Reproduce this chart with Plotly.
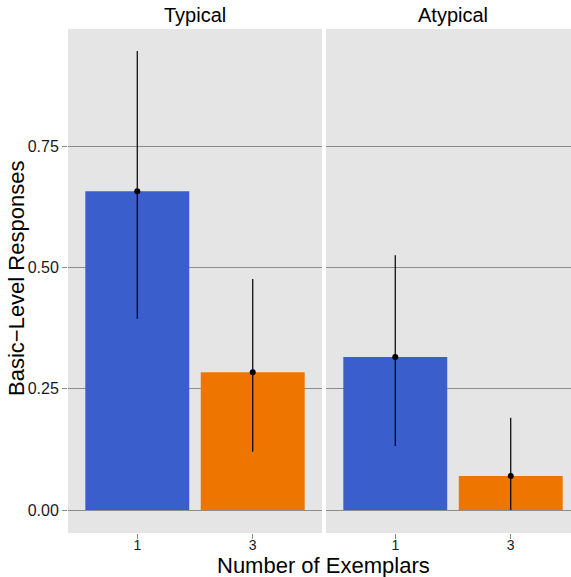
import plotly.graph_objects as go

# ---- data ----
panels = ["Typical", "Atypical"]
exemplars = ["1", "3"]
typical_means = [0.657, 0.284]
typical_lower = [0.394, 0.120]
typical_upper = [0.946, 0.476]
atypical_means = [0.315, 0.070]
atypical_lower = [0.132, 0.000]
atypical_upper = [0.525, 0.190]
bar_colors = ["#3A5FCD", "#EE7600"]
y_tickvals = [0.0, 0.25, 0.5, 0.75]
y_ticktext = ["0.00", "0.25", "0.50", "0.75"]

FONT = "Helvetica, 'Liberation Sans', Arial, sans-serif"
GRID = "#8c8c8c"
BG = "#E5E5E5"

fig = go.Figure()

series = [
    (typical_means, typical_lower, typical_upper, "x", "y"),
    (atypical_means, atypical_lower, atypical_upper, "x2", "y2"),
]
for means, lo, hi, xa, ya in series:
    fig.add_trace(go.Bar(
        x=exemplars, y=means, width=0.9,
        marker=dict(color=bar_colors, line=dict(width=0)),
        xaxis=xa, yaxis=ya, showlegend=False, hoverinfo="skip",
    ))
    fig.add_trace(go.Scatter(
        x=exemplars, y=means, mode="markers",
        marker=dict(color="black", size=6),
        error_y=dict(type="data", symmetric=False,
                     array=[h - m for h, m in zip(hi, means)],
                     arrayminus=[m - l for m, l in zip(means, lo)],
                     color="black", thickness=1.2, width=0),
        xaxis=xa, yaxis=ya, showlegend=False, hoverinfo="skip",
    ))

yrange = [-0.0474, 0.9911]
common_x = dict(type="category", showgrid=False, zeroline=False,
                ticks="outside", ticklen=5, tickwidth=1.2, tickcolor=GRID,
                ticklabelstandoff=-6,
                tickfont=dict(family=FONT, size=14, color="#1a1a1a"),
                showline=False, fixedrange=True)
common_y = dict(range=yrange, showgrid=True, gridcolor=GRID, gridwidth=1.2,
                zeroline=False, tickvals=y_tickvals, showline=False,
                fixedrange=True)

fig.update_layout(
    width=571, height=577,
    margin=dict(l=68, r=0, t=29, b=44),
    paper_bgcolor="white", plot_bgcolor=BG,
    bargap=0.1,
    xaxis=dict(domain=[0, 254 / 503], range=[-0.6, 1.6], **common_x),
    xaxis2=dict(domain=[258 / 503, 1], range=[-0.6, 1.522], anchor="y2", **common_x),
    yaxis=dict(ticktext=y_ticktext, ticks="outside", ticklen=5, tickwidth=1.2,
               tickcolor=GRID, tickfont=dict(family=FONT, size=16, color="#1a1a1a"),
               **common_y),
    yaxis2=dict(anchor="x2", showticklabels=False, ticks="", **common_y),
    annotations=[
        dict(text=panels[0], xref="paper", yref="paper", x=127 / 503, y=1,
             xanchor="center", yanchor="middle", yshift=14, showarrow=False,
             font=dict(family=FONT, size=20, color="black")),
        dict(text=panels[1], xref="paper", yref="paper", x=385 / 503, y=1,
             xanchor="center", yanchor="middle", yshift=14, showarrow=False,
             font=dict(family=FONT, size=20, color="black")),
        dict(text="Number of Exemplars", xref="paper", yref="paper", x=255 / 503, y=0,
             xanchor="center", yanchor="middle", yshift=-32, showarrow=False,
             font=dict(family=FONT, size=22, color="black")),
        dict(text="Basic\u2212Level Responses", xref="paper", yref="paper", x=0, y=0.5,
             xanchor="center", yanchor="middle", xshift=-52, yshift=2, textangle=-90,
             showarrow=False, font=dict(family=FONT, size=22, color="black")),
    ],
)

fig.write_html("out.html", config={"displayModeBar": False},
               post_script="document.body.style.margin='0';document.body.style.overflow='hidden';")
